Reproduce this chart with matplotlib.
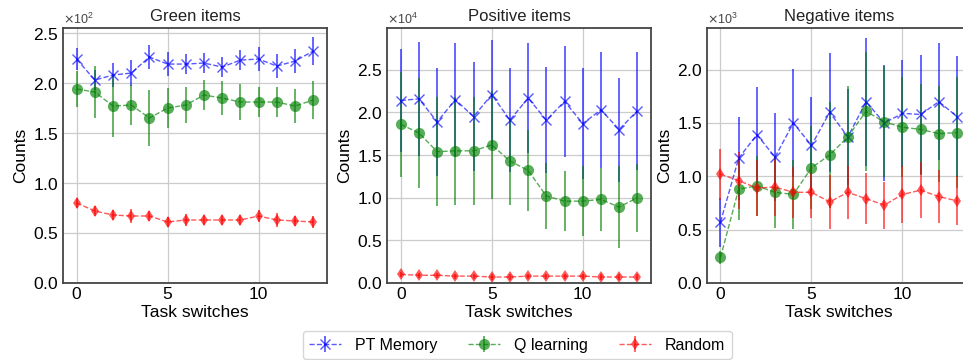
import numpy as np
import matplotlib.pyplot as plt

plt.rcParams['font.family'] = ['Liberation Sans', 'DejaVu Sans']

# 任务切换次数
steps = np.arange(14)

# Green items
green_pt = [224, 203, 208, 210, 226, 219, 219, 220, 216, 223, 224, 217, 222, 232]
green_pt_err = [11, 10, 12, 13, 12, 12, 10, 10, 10, 10, 12, 12, 12, 14]
green_q = [194, 191, 177, 178, 165, 175, 178, 188, 185, 181, 181, 181, 177, 183]
green_q_err = [18, 26, 31, 20, 28, 20, 18, 15, 17, 18, 15, 15, 17, 19]
green_rand = [80, 72, 68, 67, 67, 61, 63, 63, 63, 63, 67, 63, 62, 61]
green_rand_err = [5, 5, 5, 7, 5, 5, 6, 5, 5, 5, 6, 7, 5, 6]

# Positive items
pos_pt = [21400, 21600, 18900, 21500, 19500, 22100, 19100, 21700, 19100, 21300, 18700, 20300, 18000, 20200]
pos_pt_err = [6000, 6700, 6300, 6700, 6400, 6400, 6100, 6400, 6200, 6500, 6500, 6800, 6100, 6900]
pos_q = [18600, 17600, 15400, 15500, 15500, 16200, 14300, 13200, 10200, 9600, 9600, 9800, 8900, 10000]
pos_q_err = [6200, 6500, 6400, 6300, 6300, 6300, 5100, 4800, 3900, 3500, 4100, 3700, 4800, 4000]
pos_rand = [1000, 900, 900, 800, 800, 700, 700, 800, 800, 800, 800, 700, 700, 700]
pos_rand_err = [300, 300, 300, 300, 300, 300, 300, 300, 300, 300, 300, 300, 300, 300]

# Negative items
neg_pt = [570, 1170, 1390, 1180, 1500, 1290, 1600, 1370, 1700, 1500, 1590, 1580, 1700, 1560]
neg_pt_err = [230, 390, 450, 410, 510, 450, 560, 450, 600, 540, 500, 560, 550, 570]
neg_q = [240, 880, 910, 850, 830, 1080, 1200, 1370, 1610, 1510, 1460, 1440, 1400, 1410]
neg_q_err = [60, 290, 280, 330, 320, 390, 500, 480, 560, 520, 470, 430, 450, 520]
neg_rand = [1020, 960, 890, 900, 850, 850, 760, 850, 790, 730, 830, 870, 810, 770]
neg_rand_err = [240, 270, 260, 270, 240, 240, 250, 250, 240, 220, 270, 260, 250, 230]

panels = [
    ("Green items", (green_pt, green_pt_err), (green_q, green_q_err), (green_rand, green_rand_err), 255),
    ("Positive items", (pos_pt, pos_pt_err), (pos_q, pos_q_err), (pos_rand, pos_rand_err), 29900),
    ("Negative items", (neg_pt, neg_pt_err), (neg_q, neg_q_err), (neg_rand, neg_rand_err), 2390),
]

fig = plt.figure(figsize=(9.63, 3.6), dpi=100)
lefts = [0.0654, 0.402, 0.734]

handles = None
for left, (title, pt, q, rnd, ytop) in zip(lefts, panels):
    ax = fig.add_axes([left, 0.214, 0.274, 0.708])
    ax.set_axisbelow(True)
    ax.grid(True, color='#cccccc', linewidth=0.9)
    h1 = ax.errorbar(steps, pt[0], yerr=pt[1], fmt='x--', color='blue', alpha=0.65,
                     markersize=7, linewidth=1, elinewidth=1.3, label='PT Memory')
    h2 = ax.errorbar(steps, q[0], yerr=q[1], fmt='o--', color='green', alpha=0.65,
                     markersize=8, markeredgewidth=0, linewidth=1, elinewidth=1.3,
                     label='Q learning')
    h3 = ax.errorbar(steps, rnd[0], yerr=rnd[1], fmt='d--', color='red', alpha=0.65,
                     markersize=6, markeredgewidth=0, linewidth=1, elinewidth=1.3,
                     label='Random')
    handles = [h1, h2, h3]
    ax.set_xlim(-0.75, 13.75)
    ax.set_ylim(0, ytop)
    ax.ticklabel_format(axis='y', style='sci', scilimits=(0, 0), useMathText=True)
    ax.yaxis.get_offset_text().set_fontsize(9)
    ax.yaxis.get_offset_text().set_color('#444444')
    ax.set_title(title, fontsize=12, color='#222222', pad=5)
    ax.set_xlabel("Task switches", fontsize=12.5, labelpad=2)
    ax.set_ylabel("Counts", fontsize=12.5, labelpad=4)
    ax.tick_params(labelsize=12.5, length=0, pad=3)
    ax.set_xticks([0, 5, 10])
    for s in ax.spines.values():
        s.set_color('#444444')
        s.set_linewidth(1.3)

fig.legend(handles, ['PT Memory', 'Q learning', 'Random'], loc='upper center',
           bbox_to_anchor=(0.537, 0.08), ncol=3, fontsize=11.5, frameon=True,
           columnspacing=1.9, handlelength=2.0, handletextpad=0.9,
           edgecolor='#cccccc', borderaxespad=0)

fig.savefig('out.png', dpi=100)
